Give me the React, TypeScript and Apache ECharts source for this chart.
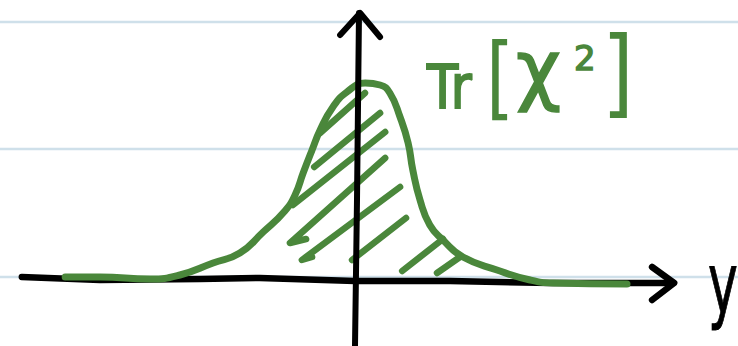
import React, { useEffect, useRef } from "react";
import * as echarts from "echarts";

const GREEN = "#4a873b";
const INK = "#000000";
const RULE = "#cfe0ea";

// Hand-drawn density curve of y (value units: x = y, vertical = density)
const densityX = [-6.82, -6.0, -4.82, -4.12, -3.34, -2.71, -2.16, -1.65, -1.41, -1.22, -1.01, -0.82, -0.52, -0.19, 0.24, 0.59, 0.82, 1.06, 1.25, 1.36, 1.53, 1.76, 2.07, 2.54, 3.34, 4.12, 4.66, 6.4];
const densityY = [0.06, 0.06, 0.02, 0.1, 0.34, 0.54, 0.96, 1.38, 1.7, 2.14, 2.6, 3.0, 3.46, 3.76, 3.94, 3.9, 3.74, 3.26, 2.74, 2.2, 1.6, 1.1, 0.8, 0.46, 0.2, 0.0, -0.06, -0.08];

// Shading strokes under the curve
const hatchStrokes = [
  [[0.235, 3.74], [-0.82, 2.94]],
  [[0.59, 3.34], [-0.96, 2.26]],
  [[0.71, 2.96], [-1.46, 1.5]],
  [[0.71, 2.44], [-1.53, 0.74], [-1.15, 0.82]],
  [[1.06, 1.86], [-1.25, 0.4], [-1.01, 0.46]],
  [[1.2, 1.24], [-0.07, 0.4]],
  [[2.07, 0.82], [1.11, 0.18]],
  [[2.47, 0.46], [1.93, 0.14]],
];

// Sketched axes with open arrow heads
const horizontalAxisStrokes = [
  [[-7.84, 0.06], [-6.0, 0.0], [-3.65, 0.02], [-2.24, 0.04], [0, -0.02], [2.24, -0.02], [4.59, -0.06], [7.48, -0.06]],
  [[6.99, 0.26], [7.51, -0.06], [6.99, -0.4]],
];
const verticalAxisStrokes = [
  [[0, -1.32], [0.047, 1.6], [0.094, 5.34]],
  [[-0.35, 4.9], [0.12, 5.34], [0.59, 4.86]],
];

// Notebook ruling (pixel rows)
const ruleRows = [22, 149, 277];

export default function App() {
  const ref = useRef<HTMLDivElement>(null);

  useEffect(() => {
    if (!ref.current) return;
    const chart = echarts.init(ref.current, null, { renderer: "svg" });

    const W = 738;
    const strokeSeries = (strokes: number[][][], color: string, width: number, z: number) => ({
      type: "lines",
      coordinateSystem: "cartesian2d",
      polyline: true,
      clip: false,
      silent: true,
      z,
      lineStyle: { color, width, opacity: 1, cap: "round", join: "round", curveness: 0 },
      data: strokes.map((coords) => ({ coords })),
    });

    const textEl = (
      text: string,
      x: number,
      y: number,
      size: number,
      color: string,
      scaleX = 1,
      weight = 1.5
    ) => ({
      type: "text",
      x,
      y,
      scaleX,
      z: 10,
      silent: true,
      style: {
        text,
        fill: color,
        stroke: color,
        lineWidth: weight,
        font: `${size}px "DejaVu Sans"`,
        textAlign: "left",
        textVerticalAlign: "middle",
        align: "left",
        verticalAlign: "middle",
      },
    });

    chart.setOption({
      animation: false,
      backgroundColor: "#ffffff",
      grid: { left: 15, right: 43, top: 30, bottom: 16 },
      xAxis: { type: "value", min: -8, max: 8, show: false },
      yAxis: { type: "value", min: -1, max: 5, show: false },
      graphic: [
        ...ruleRows.map((r) => ({
          type: "line",
          z: -10,
          silent: true,
          shape: { x1: 0, y1: r, x2: W, y2: r },
          style: { stroke: RULE, lineWidth: 2.5 },
        })),
        textEl("Tr", 427, 87, 60, GREEN, 0.85, 2),
        textEl("[", 486, 77, 90, GREEN, 0.8, 0),
        textEl("χ", 516, 69, 78, GREEN, 1, 1.5),
        textEl("2", 574, 58, 34, GREEN, 1, 1.5),
        textEl("]", 602, 72, 96, GREEN, 0.85, 0),
        textEl("y", 708, 284, 84, INK, 0.6, 1),
      ],
      series: [
        strokeSeries(horizontalAxisStrokes, INK, 6.5, 2),
        {
          type: "line",
          data: densityX.map((x, i) => [x, densityY[i]]),
          smooth: 0.5,
          symbol: "none",
          clip: false,
          silent: true,
          z: 3,
          lineStyle: { color: GREEN, width: 7, cap: "round", join: "round" },
        },
        strokeSeries(hatchStrokes, GREEN, 6.5, 3),
        strokeSeries(verticalAxisStrokes, INK, 6, 4),
      ],
    });

    return () => chart.dispose();
  }, []);

  return (
    <div
      ref={ref}
      style={{ position: "fixed", left: 0, top: 0, width: 738, height: 346 }}
    />
  );
}
